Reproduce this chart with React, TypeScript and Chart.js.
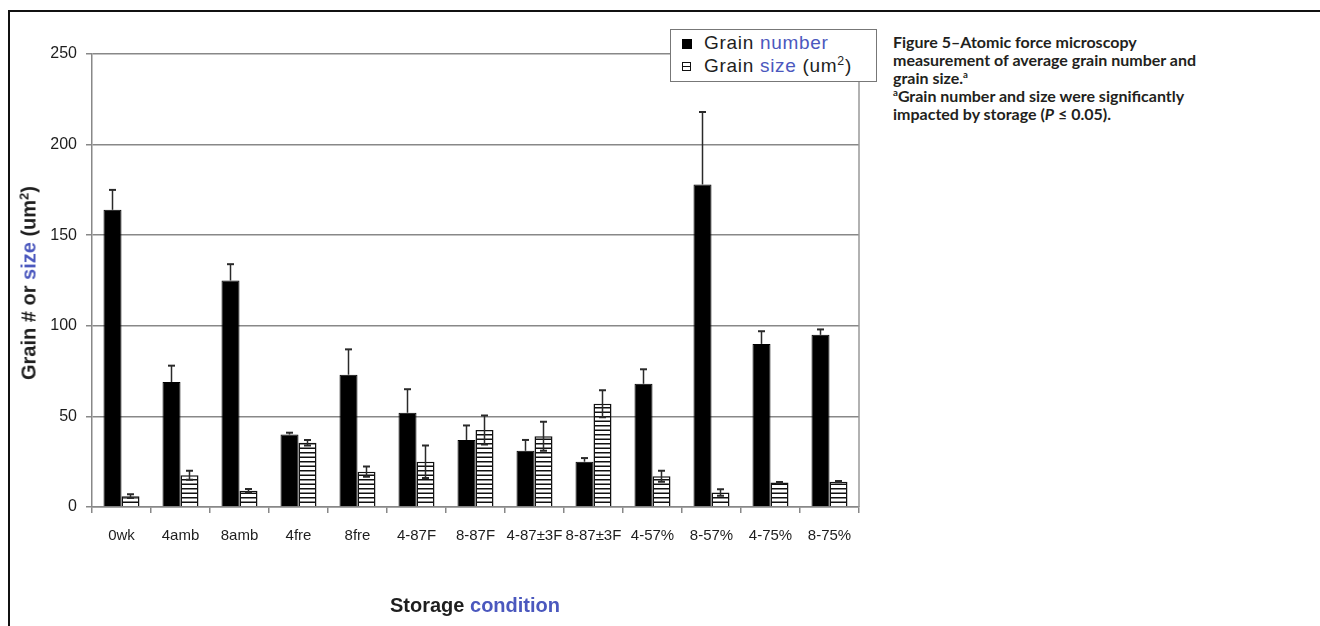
import React, { useEffect, useRef } from 'react';
import { Chart, registerables } from 'chart.js';

Chart.register(...registerables);

const categories = ['0wk', '4amb', '8amb', '4fre', '8fre', '4-87F', '8-87F', '4-87±3F', '8-87±3F', '4-57%', '8-57%', '4-75%', '8-75%'];
const grainNumber = [164, 69, 125, 40, 73, 52, 37, 31, 25, 68, 178, 90, 95];
const grainNumberErr = [11, 9, 9, 1, 14, 13, 8, 6, 2, 8, 40, 7, 3];
const grainSize = [6, 17.5, 9, 35.5, 19.5, 25, 42.5, 39, 57, 17, 8, 13.5, 14];
const grainSizeErr = [1, 2.5, 1, 1.5, 2.8, 9, 8, 8, 7.5, 3, 1.8, 0.3, 0.3];
const yMin = 0;
const yMax = 250;
const yStep = 50;

const BLUE = '#4b58be';
const INK = '#1e1e1e';

function makeHatch(): CanvasPattern | string {
  const c = document.createElement('canvas');
  c.width = 8;
  c.height = 9;
  const ctx = c.getContext('2d');
  if (!ctx) return '#fff';
  ctx.fillStyle = '#fff';
  ctx.fillRect(0, 0, 8, 9);
  ctx.fillStyle = '#111';
  ctx.fillRect(0, 2, 8, 1.5);
  ctx.fillRect(0, 6.5, 8, 1.5);
  return ctx.createPattern(c, 'repeat') || '#fff';
}

const errorBarPlugin = {
  id: 'errorBars',
  afterDatasetsDraw(chart: any) {
    const ctx = chart.ctx;
    const y = chart.scales.y;
    const errs = [grainNumberErr, grainSizeErr];
    chart.data.datasets.forEach((ds: any, di: number) => {
      const meta = chart.getDatasetMeta(di);
      meta.data.forEach((el: any, i: number) => {
        const v = ds.data[i] as number;
        const e = errs[di][i];
        const top = y.getPixelForValue(v + e);
        const bot = di === 0 ? y.getPixelForValue(v) : y.getPixelForValue(v - e);
        ctx.save();
        ctx.strokeStyle = '#2a2a2a';
        ctx.lineWidth = 1.5;
        ctx.beginPath();
        ctx.moveTo(el.x, top);
        ctx.lineTo(el.x, bot);
        ctx.stroke();
        ctx.lineWidth = 2;
        ctx.beginPath();
        ctx.moveTo(el.x - 3.5, top);
        ctx.lineTo(el.x + 3.5, top);
        if (di !== 0) {
          ctx.moveTo(el.x - 3.5, bot);
          ctx.lineTo(el.x + 3.5, bot);
        }
        ctx.stroke();
        ctx.restore();
      });
    });
  },
};

const rightBorderPlugin = {
  id: 'rightBorder',
  beforeDatasetsDraw(chart: any) {
    const { ctx, chartArea } = chart;
    ctx.save();
    ctx.strokeStyle = '#999';
    ctx.lineWidth = 1.5;
    ctx.beginPath();
    ctx.moveTo(chartArea.right, chartArea.top);
    ctx.lineTo(chartArea.right, chartArea.bottom);
    ctx.stroke();
    ctx.restore();
  },
};

function ChartCanvas() {
  const ref = useRef<HTMLCanvasElement | null>(null);
  useEffect(() => {
    if (!ref.current) return;
    const hatch = makeHatch();
    const chart = new Chart(ref.current, {
      type: 'bar',
      data: {
        labels: categories,
        datasets: [
          {
            label: 'Grain number',
            data: grainNumber,
            backgroundColor: '#000',
            borderColor: '#000',
            borderWidth: 1,
            categoryPercentage: 0.61,
            barPercentage: 1,
          },
          {
            label: 'Grain size (um²)',
            data: grainSize,
            backgroundColor: hatch as any,
            borderColor: '#111',
            borderWidth: 1.5,
            categoryPercentage: 0.61,
            barPercentage: 1,
          },
        ],
      },
      options: {
        animation: false,
        responsive: false,
        maintainAspectRatio: false,
        layout: { padding: { top: 54, right: 21, bottom: 0, left: 0 } },
        plugins: {
          legend: { display: false },
          tooltip: { enabled: false },
          title: { display: false },
        },
        scales: {
          x: {
            grid: {
              drawOnChartArea: false,
              drawTicks: true,
              tickLength: 6,
              color: '#888',
              lineWidth: 1.5,
              offset: true,
            },
            border: { color: '#888', width: 1.5 },
            ticks: {
              color: INK,
              font: { family: 'Liberation Sans', size: 15 },
              padding: 14,
              maxRotation: 0,
              autoSkip: false,
            },
            afterFit(s: any) {
              s.height = 119;
            },
          },
          y: {
            min: yMin,
            max: yMax,
            ticks: {
              stepSize: yStep,
              color: INK,
              font: { family: 'Liberation Sans', size: 16 },
              padding: 9,
            },
            grid: { color: '#888', lineWidth: 1.5, tickLength: 6 },
            border: { color: '#888', width: 1.5 },
            afterFit(s: any) {
              s.width = 92;
            },
          },
        },
      },
      plugins: [rightBorderPlugin, errorBarPlugin],
    } as any);
    return () => chart.destroy();
  }, []);
  return (
    <canvas
      ref={ref}
      width={880}
      height={626}
      style={{ position: 'absolute', left: 0, top: 0, width: 880, height: 626 }}
    />
  );
}

export default function App() {
  useEffect(() => {
    document.body.style.margin = '0';
  }, []);
  const sup: React.CSSProperties = { fontSize: '0.65em', position: 'relative', top: '-0.55em', lineHeight: 0 };
  const capSup: React.CSSProperties = { fontSize: '0.6em', position: 'relative', top: '-0.6em', lineHeight: 0 };
  return (
    <div style={{ position: 'relative', width: 1320, height: 626, background: '#fff', overflow: 'hidden' }}>
      <div
        style={{
          position: 'absolute',
          left: 8,
          top: 10,
          width: 1320,
          height: 640,
          borderTop: '2px solid #111',
          borderLeft: '2px solid #111',
        }}
      />
      <ChartCanvas />
      <div
        style={{
          position: 'absolute',
          left: 29,
          top: 283,
          transform: 'translate(-50%, -50%) rotate(-90deg)',
          whiteSpace: 'nowrap',
          font: 'bold 20px "Liberation Sans"',
          color: INK,
        }}
      >
        Grain # or <span style={{ color: BLUE }}>size</span> (um<span style={sup}>2</span>)
      </div>
      <div
        style={{
          position: 'absolute',
          left: 475,
          top: 605,
          transform: 'translate(-50%, -50%)',
          whiteSpace: 'nowrap',
          font: 'bold 20px "Liberation Sans"',
          color: INK,
        }}
      >
        Storage <span style={{ color: BLUE }}>condition</span>
      </div>
      <div
        style={{
          position: 'absolute',
          left: 670,
          top: 29,
          width: 205,
          height: 51,
          background: '#fff',
          border: '1px solid #777',
          font: '19px "Liberation Sans"',
          color: INK,
        }}
      >
        <div style={{ position: 'absolute', left: 11, top: 9, width: 10, height: 10, background: '#000' }} />
        <div style={{ position: 'absolute', left: 33, top: 2, whiteSpace: 'nowrap', letterSpacing: '0.7px' }}>
          Grain <span style={{ color: BLUE }}>number</span>
        </div>
        <div
          style={{
            position: 'absolute',
            left: 11,
            top: 32,
            width: 7,
            height: 7,
            background: '#fff',
            border: '1.5px solid #111',
          }}
        >
          <div style={{ position: 'absolute', left: 0, top: 2.5, width: 7, height: 1.5, background: '#111' }} />
        </div>
        <div style={{ position: 'absolute', left: 33, top: 25, whiteSpace: 'nowrap', letterSpacing: '0.7px' }}>
          Grain <span style={{ color: BLUE }}>size</span> (um<span style={sup}>2</span>)
        </div>
      </div>
      <div
        style={{
          position: 'absolute',
          left: 893,
          top: 33,
          font: 'bold 16px Lato',
          lineHeight: '18px',
          color: '#231f20',
          whiteSpace: 'nowrap',
        }}
      >
        <div>Figure 5–Atomic force microscopy</div>
        <div>measurement of average grain number and</div>
        <div>
          grain size.<span style={capSup}>a</span>
        </div>
        <div>
          <span style={capSup}>a</span>Grain number and size were significantly
        </div>
        <div>
          impacted by storage (<i>P</i> ≤ 0.05).
        </div>
      </div>
    </div>
  );
}
